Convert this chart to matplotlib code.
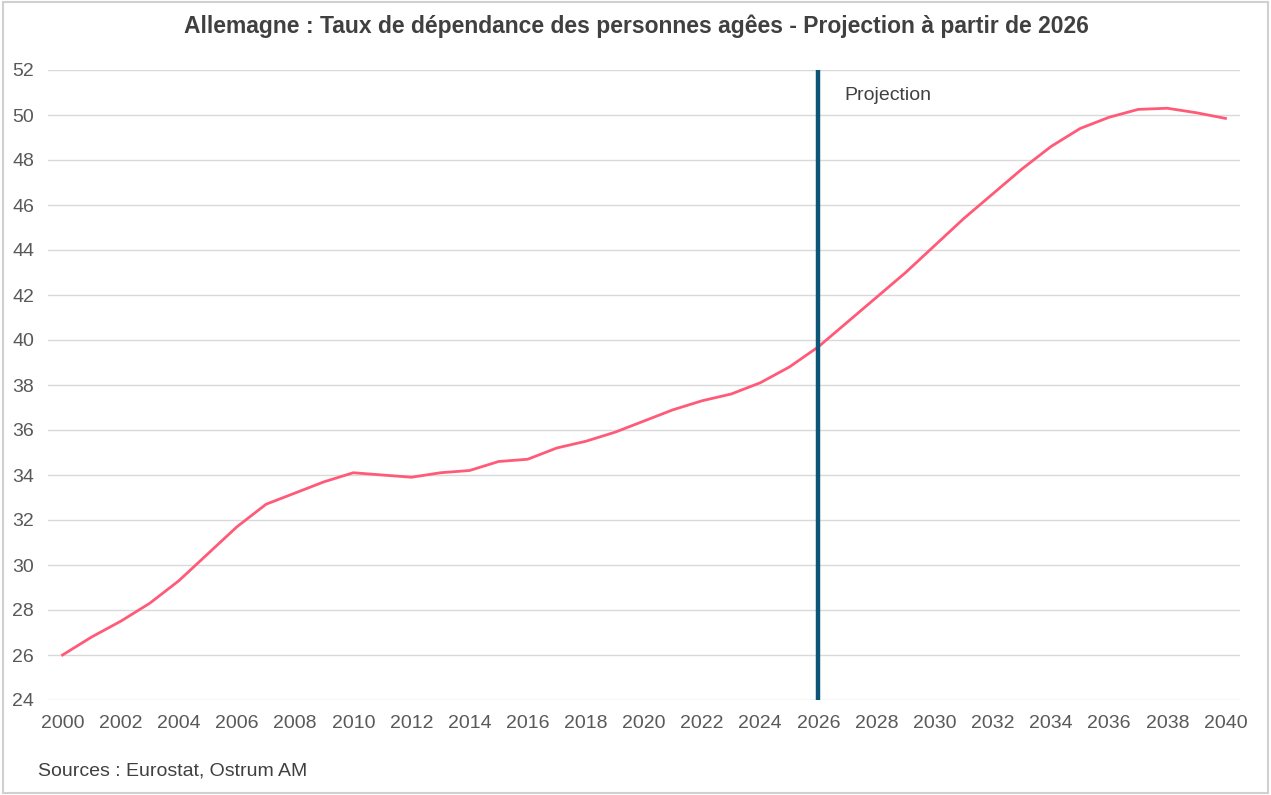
import matplotlib
matplotlib.use("Agg")
import matplotlib.pyplot as plt
from matplotlib.patches import Rectangle

plt.rcParams['font.family'] = ['Liberation Sans', 'DejaVu Sans']

# data
years = list(range(2000, 2041))
ratio = [26.0, 26.8, 27.5, 28.3, 29.3, 30.5, 31.7, 32.7, 33.2, 33.7,
         34.1, 34.0, 33.9, 34.1, 34.2, 34.6, 34.7, 35.2, 35.5, 35.9,
         36.4, 36.9, 37.3, 37.6, 38.1, 38.8, 39.7, 40.8, 41.9, 43.0,
         44.2, 45.4, 46.5, 47.6, 48.6, 49.4, 49.9, 50.25, 50.3, 50.1,
         49.85]
projection_start = 2026
yticks = list(range(24, 53, 2))
xticks = list(range(2000, 2041, 2))

fig = plt.figure(figsize=(12.71, 7.95), dpi=100)
ax = fig.add_axes([48/1271, 1 - 700/795, (1240-48)/1271, (700-70)/795])

# grid
for y in yticks:
    ax.axhline(y, color='#d9d9d9', lw=1, zorder=0)

ax.plot(years, ratio, color='#ff5a78', lw=2, zorder=3)
ax.axvline(projection_start, color='#0d5577', lw=3.2, zorder=4)
ax.text(projection_start + 0.9, 50.85, 'Projection', fontsize=14,
        color='#404040', va='center', ha='left')

ax.set_xlim(1999.5, 2040.5)
ax.set_ylim(24, 52)
ax.set_xticks(xticks)
ax.set_yticks(yticks)
ax.tick_params(length=0, labelsize=14, labelcolor='#595959')
ax.tick_params(axis='x', pad=11)
ax.tick_params(axis='y', pad=10)
for s in ax.spines.values():
    s.set_visible(False)

fig.text(636/1271, 1 - 26/795, 'Allemagne : Taux de dépendance des personnes agêes - Projection à partir de 2026',
         ha='center', va='center', fontsize=16.5, fontweight='bold', color='#404040')
fig.text(38/1271, 1 - 771/795, 'Sources : Eurostat, Ostrum AM',
         ha='left', va='center', fontsize=14, color='#404040')

# light border around the figure
fig.patches.append(Rectangle((0.002, 0.002), 0.996, 0.996, transform=fig.transFigure,
                             fill=False, edgecolor='#d0d0d0', lw=1.5))

fig.savefig('out.png', dpi=100)
